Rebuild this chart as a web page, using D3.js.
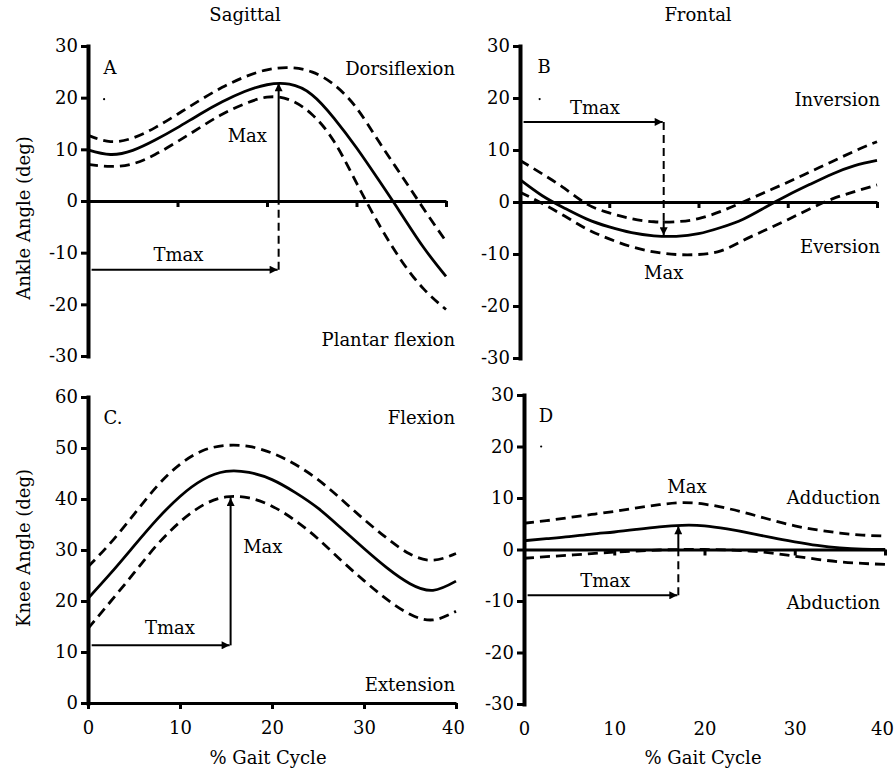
<!DOCTYPE html>
<html>
<head>
<meta charset="utf-8">
<script src="https://cdnjs.cloudflare.com/ajax/libs/d3/7.8.5/d3.min.js"></script>
<style>
  body { margin: 0; background: #fff; }
  text { font-family: "DejaVu Serif", serif; fill: #000; }
</style>
</head>
<body>
<svg id="chart" width="894" height="771"></svg>
<script>
// % gait cycle sample points
var gait = [0, 2.5, 5, 7.5, 10, 12.5, 15, 17.5, 20, 22.5, 25, 27.5, 30, 32.5, 35, 37.5, 40];
var xTicks = [0, 10, 20, 30, 40];

// A: ankle sagittal (mean, +SD, -SD)
var ankleSagMean  = [9.9, 9.0, 9.8, 11.8, 14.2, 16.8, 19.2, 21.2, 22.5, 22.6, 20.6, 16.0, 10.3, 4.0, -2.5, -9.0, -14.6];
var ankleSagUpper = [12.7, 11.5, 12.2, 14.2, 16.8, 19.5, 22.0, 24.0, 25.4, 25.8, 25.0, 22.5, 18.0, 11.5, 5.0, -1.5, -7.8];
var ankleSagLower = [7.1, 6.7, 7.2, 9.0, 11.5, 14.2, 16.8, 18.8, 20.1, 19.6, 16.8, 11.5, 3.5, -4.5, -11.5, -17.0, -21.0];

// B: ankle frontal
var ankleFroMean  = [4.3, 1.2, -1.2, -3.3, -4.8, -5.9, -6.5, -6.6, -6.1, -4.9, -3.3, -1.0, 1.3, 3.4, 5.4, 7.0, 8.0];
var ankleFroUpper = [8.0, 5.4, 2.6, -0.4, -2.1, -3.2, -3.8, -3.8, -3.2, -1.8, 0.0, 1.9, 3.8, 5.8, 7.8, 9.8, 11.6];
var ankleFroLower = [1.9, -0.3, -2.7, -5.2, -7.1, -8.6, -9.6, -10.1, -10.1, -9.4, -7.4, -5.4, -3.4, -1.3, 0.6, 2.0, 3.3];

// C: knee sagittal
var kneeSagMean  = [20.5, 25.5, 30.8, 36.0, 40.5, 43.8, 45.4, 45.2, 43.8, 41.3, 38.2, 34.3, 30.3, 26.5, 23.4, 22.1, 23.9];
var kneeSagUpper = [26.7, 31.5, 37.0, 42.5, 46.8, 49.5, 50.5, 50.3, 49.0, 46.8, 43.8, 40.0, 36.0, 32.3, 29.2, 28.0, 29.3];
var kneeSagLower = [14.6, 20.0, 25.5, 31.0, 35.5, 38.8, 40.4, 40.2, 38.6, 35.8, 32.2, 28.0, 24.0, 20.3, 17.4, 16.3, 18.0];

// D: knee frontal
var kneeFroMean  = [1.7, 2.1, 2.5, 3.0, 3.4, 3.9, 4.4, 4.7, 4.6, 4.0, 3.2, 2.3, 1.5, 0.8, 0.3, 0.05, 0.0];
var kneeFroUpper = [5.1, 5.6, 6.2, 6.8, 7.4, 8.1, 8.7, 9.1, 8.8, 8.0, 6.9, 5.7, 4.6, 3.8, 3.2, 2.8, 2.6];
var kneeFroLower = [-1.7, -1.4, -1.1, -0.8, -0.5, -0.3, -0.1, 0.0, 0.0, -0.1, -0.3, -0.7, -1.3, -1.9, -2.4, -2.7, -2.9];

// Tmax / Max annotations [tmax, max, level of Tmax arrow]
var annA = [21.3, 22.8, -13.3];
var annB = [16.1, -6.4, 15.4];
var annC = [15.5, 40.2, 11.3];
var annD = [17.1, 4.5, -8.9];

var svg = d3.select("#chart");

var defs = svg.append("defs");
defs.append("marker")
  .attr("id", "arrow")
  .attr("viewBox", "0 0 10 10")
  .attr("refX", 10).attr("refY", 5)
  .attr("markerWidth", 11).attr("markerHeight", 8)
  .attr("markerUnits", "userSpaceOnUse")
  .attr("orient", "auto")
  .append("path").attr("d", "M0,0L10,5L0,10z").attr("fill", "#000");

var panels = [
  { id: "A", left: 88, right: 446, top: 46, bottom: 356, yDomain: [-30, 30], yTicks: [-30, -20, -10, 0, 10, 20, 30],
    mean: ankleSagMean, upper: ankleSagUpper, lower: ankleSagLower, ann: annA, kind: "up",
    letter: "A", letterPos: [110, 68], dot: [1.8, 19.7],
    top_label: "Dorsiflexion", topPos: [455, 69], bot_label: "Plantar flexion", botPos: [455, 340],
    maxText: [17.8, 12.7], tmaxText: [10.1, -10.3], xLabels: false },
  { id: "B", left: 520, right: 877, top: 46, bottom: 358, yDomain: [-30, 30], yTicks: [-30, -20, -10, 0, 10, 20, 30],
    mean: ankleFroMean, upper: ankleFroUpper, lower: ankleFroLower, ann: annB, kind: "down",
    letter: "B", letterPos: [544, 67], dot: [2.2, 19.8],
    top_label: "Inversion", topPos: [880, 100], bot_label: "Eversion", botPos: [880, 247],
    maxText: [16.1, -13.5], tmaxText: [8.4, 18.1], xLabels: false },
  { id: "C", left: 88, right: 456, top: 397, bottom: 703, yDomain: [0, 60], yTicks: [0, 10, 20, 30, 40, 50, 60],
    mean: kneeSagMean, upper: kneeSagUpper, lower: kneeSagLower, ann: annC, kind: "solid",
    letter: "C.", letterPos: [113, 418], dot: null,
    top_label: "Flexion", topPos: [455, 418], bot_label: "Extension", botPos: [455, 685],
    maxText: [19, 30.6], tmaxText: [8.9, 14.7], xLabels: true },
  { id: "D", left: 524, right: 885, top: 395, bottom: 704, yDomain: [-30, 30], yTicks: [-30, -20, -10, 0, 10, 20, 30],
    mean: kneeFroMean, upper: kneeFroUpper, lower: kneeFroLower, ann: annD, kind: "up",
    letter: "D", letterPos: [546, 416], dot: [1.9, 20],
    top_label: "Adduction", topPos: [880, 498], bot_label: "Abduction", botPos: [880, 603],
    maxText: [18.05, 12.2], tmaxText: [9.0, -6.0], xLabels: true }
];

panels.forEach(function(p) {
  var g = svg.append("g").attr("class", "panel-" + p.id);
  var x = d3.scaleLinear().domain([0, 40]).range([p.left, p.right]);
  var y = d3.scaleLinear().domain(p.yDomain).range([p.bottom, p.top]);

  // x axis on the zero line
  var xa = g.append("g")
    .attr("transform", "translate(0," + y(0) + ")")
    .call(d3.axisBottom(x).tickValues(xTicks).tickSize(6).tickSizeOuter(0).tickFormat(""));
  xa.select(".domain").attr("stroke", "#000").attr("stroke-width", 3);
  xa.selectAll(".tick line").attr("stroke", "#000").attr("stroke-width", 3);

  if (p.xLabels) {
    var xl = g.append("g")
      .attr("transform", "translate(0," + p.bottom + ")")
      .call(d3.axisBottom(x).tickValues(xTicks).tickSize(0).tickPadding(18).tickFormat(function(d) { return d; }));
    xl.select(".domain").remove();
    xl.selectAll("text").attr("font-size", 18).attr("font-family", "DejaVu Serif").attr("fill", "#000")
      .attr("dx", function(d) { return d == 40 ? -3 : 0; });
  }

  // y axis
  var ya = g.append("g")
    .attr("transform", "translate(" + p.left + ",0)")
    .call(d3.axisLeft(y).tickValues(p.yTicks).tickSize(7).tickSizeOuter(0).tickPadding(3)
      .tickFormat(function(d) { return String(d); }));
  ya.select(".domain").attr("stroke", "#000").attr("stroke-width", 4).attr("stroke-linecap", "square");
  ya.selectAll(".tick line").attr("stroke", "#000").attr("stroke-width", 3);
  ya.selectAll("text").attr("font-size", 18).attr("font-family", "DejaVu Serif").attr("fill", "#000");

  var line = d3.line()
    .x(function(d, i) { return x(gait[i]); })
    .y(function(d) { return y(d); })
    .curve(d3.curveNatural);

  g.append("path").datum(p.upper).attr("d", line)
    .attr("fill", "none").attr("stroke", "#000").attr("stroke-width", 2.8).attr("stroke-dasharray", "10,6");
  g.append("path").datum(p.lower).attr("d", line)
    .attr("fill", "none").attr("stroke", "#000").attr("stroke-width", 2.8).attr("stroke-dasharray", "10,6");
  g.append("path").datum(p.mean).attr("d", line)
    .attr("fill", "none").attr("stroke", "#000").attr("stroke-width", 2.8);

  // annotations
  var tmax = p.ann[0], mx = p.ann[1], lvl = p.ann[2];
  g.append("line")
    .attr("x1", x(0.4)).attr("x2", x(tmax) - 1)
    .attr("y1", y(lvl)).attr("y2", y(lvl))
    .attr("stroke", "#000").attr("stroke-width", 2).attr("marker-end", "url(#arrow)");

  if (p.kind == "up") {
    g.append("line").attr("x1", x(tmax)).attr("x2", x(tmax)).attr("y1", y(lvl)).attr("y2", y(0))
      .attr("stroke", "#000").attr("stroke-width", 2).attr("stroke-dasharray", "8,5");
    g.append("line").attr("x1", x(tmax)).attr("x2", x(tmax)).attr("y1", y(0)).attr("y2", y(mx))
      .attr("stroke", "#000").attr("stroke-width", 2).attr("marker-end", "url(#arrow)");
  } else if (p.kind == "down") {
    var mid = mx + 2.8;
    g.append("line").attr("x1", x(tmax)).attr("x2", x(tmax)).attr("y1", y(lvl)).attr("y2", y(mid))
      .attr("stroke", "#000").attr("stroke-width", 2).attr("stroke-dasharray", "8,5");
    g.append("line").attr("x1", x(tmax)).attr("x2", x(tmax)).attr("y1", y(mid)).attr("y2", y(mx))
      .attr("stroke", "#000").attr("stroke-width", 2).attr("marker-end", "url(#arrow)");
  } else {
    g.append("line").attr("x1", x(tmax)).attr("x2", x(tmax)).attr("y1", y(lvl)).attr("y2", y(mx))
      .attr("stroke", "#000").attr("stroke-width", 2).attr("marker-end", "url(#arrow)");
  }

  g.append("text").attr("x", x(p.maxText[0])).attr("y", y(p.maxText[1]))
    .attr("text-anchor", "middle").attr("dy", "0.35em").attr("font-size", 18).text("Max");
  g.append("text").attr("x", x(p.tmaxText[0])).attr("y", y(p.tmaxText[1]))
    .attr("text-anchor", "middle").attr("dy", "0.35em").attr("font-size", 18).text("Tmax");

  g.append("text").attr("x", p.letterPos[0]).attr("y", p.letterPos[1])
    .attr("text-anchor", "middle").attr("dy", "0.35em").attr("font-size", 18).text(p.letter);
  if (p.dot) {
    g.append("circle").attr("cx", x(p.dot[0])).attr("cy", y(p.dot[1])).attr("r", 1.1).attr("fill", "#000");
  }

  g.append("text").attr("x", p.topPos[0]).attr("y", p.topPos[1])
    .attr("text-anchor", "end").attr("dy", "0.35em").attr("font-size", 18).text(p.top_label);
  g.append("text").attr("x", p.botPos[0]).attr("y", p.botPos[1])
    .attr("text-anchor", "end").attr("dy", "0.35em").attr("font-size", 18).text(p.bot_label);
});

// column titles and axis titles
svg.append("text").attr("x", 245).attr("y", 15).attr("dy", "0.35em").attr("text-anchor", "middle")
  .attr("font-size", 18).text("Sagittal");
svg.append("text").attr("x", 698).attr("y", 15).attr("dy", "0.35em").attr("text-anchor", "middle")
  .attr("font-size", 18).text("Frontal");
svg.append("text").attr("transform", "translate(24,218) rotate(-90)").attr("dy", "0.35em")
  .attr("text-anchor", "middle").attr("font-size", 18).text("Ankle Angle (deg)");
svg.append("text").attr("transform", "translate(24,548) rotate(-90)").attr("dy", "0.35em")
  .attr("text-anchor", "middle").attr("font-size", 18).text("Knee Angle (deg)");
svg.append("text").attr("x", 268).attr("y", 758).attr("dy", "0.35em").attr("text-anchor", "middle")
  .attr("font-size", 18).text("% Gait Cycle");
svg.append("text").attr("x", 703).attr("y", 758).attr("dy", "0.35em").attr("text-anchor", "middle")
  .attr("font-size", 18).text("% Gait Cycle");
</script>
</body>
</html>
